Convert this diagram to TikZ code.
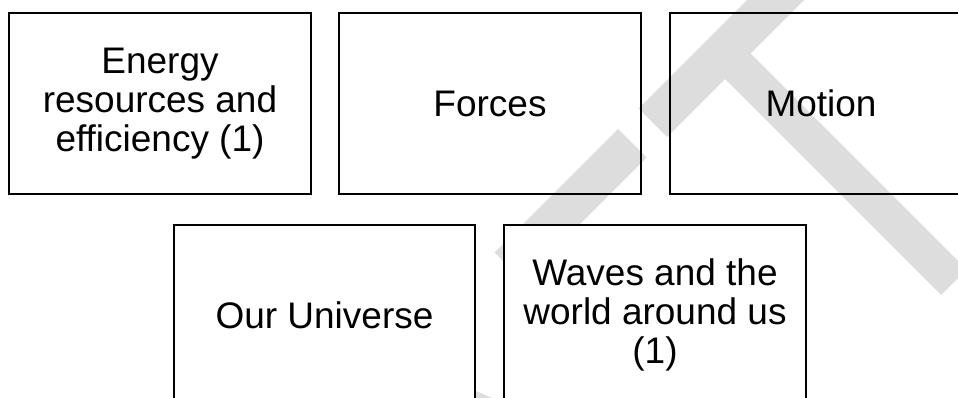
\documentclass[tikz,border=0pt]{standalone}
\usepackage{fontspec}
\setmainfont{Liberation Sans}
\usetikzlibrary{positioning}
\definecolor{MarkGray}{RGB}{221,221,221}
\tikzset{
  topic/.style={draw=black,line width=0.05cm,minimum width=7.525cm,
    minimum height=4.5cm,inner sep=0pt,align=center,
    font=\fontsize{26.3pt}{27.6pt}\selectfont},
  lowtopic/.style={topic,fill=white},
  mark/.style={fill=MarkGray}
}
\begin{document}
\begin{tikzpicture}[x=0.025cm,y=-0.025cm]

\useasboundingbox (0,0) rectangle (958,398);
\clip (0,0) rectangle (958,398);

\fill[MarkGray] (638.5,108.5) -- (780,-33) -- (808.5,-4.5) -- (750.5,53.5)
  -- (966.5,269.5) -- (941,295) -- (725,79) -- (667,137) -- cycle;
\fill[MarkGray] (494.5,252.5) -- (618,129) -- (646.5,157.5) -- (548.5,255.5)
  -- (692.5,399.5) -- (667,425) -- cycle;
\fill[MarkGray] (440,376) -- (540,418) -- (520,460) -- (420,418) -- cycle;

\node[topic] (energy) at (160,103.5) {Energy\\resources and\\efficiency (1)};
\node[topic] (forces) at (490,103.5) {Forces};
\node[topic] (motion) at (821,103.5) {Motion};

\node[lowtopic] (universe) at (324.5,315) {Our Universe};
\node[lowtopic] (waves) at (655,315) {Waves and the\\world around us\\(1)};

\end{tikzpicture}
\end{document}
